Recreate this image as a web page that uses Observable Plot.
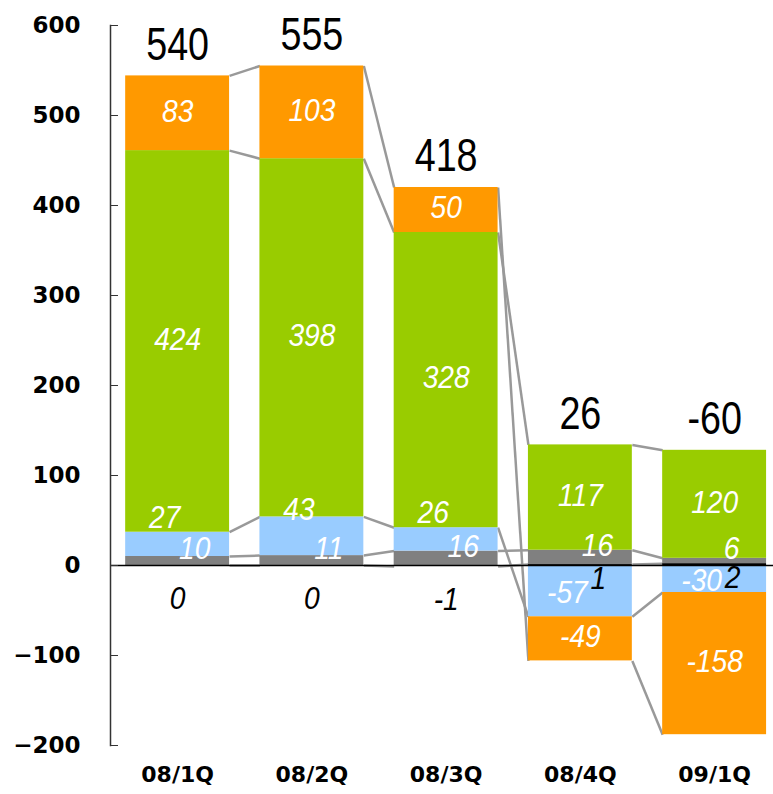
<!DOCTYPE html>
<html>
<head>
<meta charset="utf-8">
<script src="https://cdn.jsdelivr.net/npm/d3@7"></script>
<script src="https://cdn.jsdelivr.net/npm/@observablehq/plot@0.6"></script>
<style>
  html, body { margin: 0; padding: 0; background: #fff; overflow: hidden; }
</style>
</head>
<body>
<div id="chart"></div>
<script>
const categories = ["08/1Q", "08/2Q", "08/3Q", "08/4Q", "09/1Q"];
const totals = [540, 555, 418, 26, -60];
const otherVals = [0, 0, -1, 1, 2];
const grayVals = [10, 11, 16, 16, 6];
const blueVals = [27, 43, 26, -57, -30];
const greenVals = [424, 398, 328, 117, 120];
const orangeVals = [83, 103, 50, -49, -158];
const yTicks = [-200, -100, 0, 100, 200, 300, 400, 500, 600];

const seriesOrder = [
  {name: "other", values: otherVals, color: "#000000"},
  {name: "gray", values: grayVals, color: "#808080"},
  {name: "blue", values: blueVals, color: "#99CCFF"},
  {name: "green", values: greenVals, color: "#99CC00"},
  {name: "orange", values: orangeVals, color: "#FF9900"}
];

const hw = 0.387;

const rows = [];
const posTop = [];
categories.forEach((c, i) => {
  let pos = 0, neg = 0;
  seriesOrder.forEach(s => {
    const v = s.values[i];
    let y1, y2;
    if (v >= 0) { y1 = pos; y2 = pos + v; pos = y2; }
    else { y1 = neg; y2 = neg + v; neg = y2; }
    rows.push({i, cat: c, series: s.name, color: s.color, value: v, y1, y2, mid: (y1 + y2) / 2, x1: i - hw, x2: i + hw});
  });
  posTop.push({i, top: pos, total: totals[i]});
});

const links = [];
seriesOrder.forEach(s => {
  const r = rows.filter(d => d.series === s.name);
  for (let k = 0; k < r.length - 1; k++) {
    links.push({x1: r[k].i + hw, x2: r[k + 1].i - hw, y1: r[k].y2, y2: r[k + 1].y2});
  }
});

const of = name => rows.filter(d => d.series === name);
const labelFont = "'Liberation Sans', Arial, sans-serif";
const segText = {x: "i", text: d => String(d.value), fill: "white", fontStyle: "italic", fontSize: 32, fontFamily: labelFont};

const chart = Plot.plot({
  width: 773,
  height: 794,
  marginTop: 25,
  marginBottom: 49,
  marginLeft: 110,
  marginRight: 0,
  x: {domain: [-0.5, 4.5], range: [110, 781.25]},
  y: {domain: [-200, 600]},
  style: {background: "white"},
  marks: [
    Plot.link(links, {x1: "x1", x2: "x2", y1: "y1", y2: "y2", stroke: "#999999", strokeWidth: 2.5}),
    Plot.rect(rows.filter(d => d.series !== "other"), {x1: "x1", x2: "x2", y1: "y1", y2: "y2", fill: "color"}),
    Plot.rect(of("other"), {x1: "x1", x2: "x2", y1: "y1", y2: "y2", fill: "color"}),
    Plot.ruleY([0], {stroke: "black", strokeWidth: 1.5}),
    Plot.frame({anchor: "left", stroke: "#333", strokeWidth: 1.5}),
    Plot.axisY({ticks: yTicks, tickSize: -8, tickPadding: 38, fontSize: 23, fontWeight: "bold", fontFamily: "DejaVu Sans, sans-serif", stroke: "#333", color: "black"}),
    Plot.axisX({ticks: categories.map((c, i) => i), tickFormat: i => categories[i], tickSize: 0, tickPadding: 21, fontSize: 22, fontWeight: "bold", fontFamily: "DejaVu Sans, sans-serif"}),
    Plot.text(of("orange"), {...segText, y: "mid", dy: -2}),
    Plot.text(of("green"), {...segText, y: "mid", dy: -2}),
    Plot.text(of("blue").filter(d => d.value > 0), {...segText, y: "mid", dx: -13, dy: -27}),
    Plot.text(of("blue").filter(d => d.value < 0), {...segText, y: "mid", dx: -13, dy: 2}),
    Plot.text(of("gray"), {...segText, y: "mid", dx: 17, dy: -12}),
    Plot.text(of("other").filter(d => d.value <= 0), {...segText, y: "y2", fill: "black", dy: 33}),
    Plot.text(of("other").filter(d => d.value > 0), {...segText, y: "y2", fill: "black", dx: 18, dy: 14}),
    Plot.text(posTop, {x: "i", y: "top", text: d => String(d.total), fontSize: 46, fontFamily: labelFont, fill: "black", dy: -31})
  ]
});
document.getElementById("chart").appendChild(chart);

// narrow the label glyphs to mimic the condensed face of the original
function condense(size, k) {
  const texts = Array.from(chart.querySelectorAll("text")).filter(t => {
    const g = t.closest("g");
    return g && g.getAttribute("font-size") === String(size);
  });
  texts.forEach(t => {
    const w = t.getComputedTextLength();
    if (w > 0) {
      t.setAttribute("textLength", (w * k).toFixed(1));
      t.setAttribute("lengthAdjust", "spacingAndGlyphs");
    }
  });
}
try {
  condense(46, 0.82);
  condense(32, 0.88);
} catch (e) {}
</script>
</body>
</html>
